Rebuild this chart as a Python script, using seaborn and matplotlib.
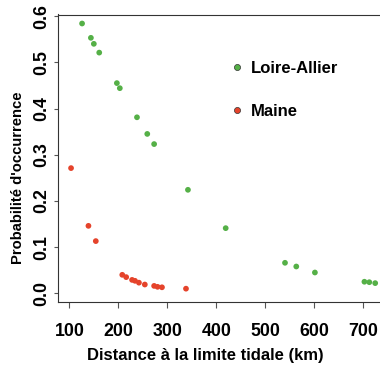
import matplotlib
matplotlib.use("Agg")
import matplotlib.pyplot as plt
from matplotlib.lines import Line2D
import seaborn as sns
import pandas as pd

# Data
loire_dist = [126, 144, 150, 161, 197, 203, 238, 259, 273, 342, 419, 540, 563, 601, 702, 712, 724]
loire_prob = [0.584, 0.553, 0.540, 0.521, 0.455, 0.444, 0.381, 0.345, 0.323, 0.224, 0.141,
              0.066, 0.058, 0.045, 0.025, 0.024, 0.022]
maine_dist = [103.5, 139, 154, 208, 216, 228, 234, 242, 254, 273, 280, 289, 338]
maine_prob = [0.271, 0.146, 0.113, 0.040, 0.035, 0.029, 0.027, 0.023, 0.019, 0.016, 0.014, 0.013, 0.010]

series_names = ["Loire-Allier", "Maine"]
series_colors = ["#55b047", "#e5432b"]
x_ticks = [100, 200, 300, 400, 500, 600, 700]
y_ticks = [0.0, 0.1, 0.2, 0.3, 0.4, 0.5, 0.6]
x_label = "Distance à la limite tidale (km)"
y_label = "Probabilité d'occurrence"

df = pd.DataFrame({
    "dist": loire_dist + maine_dist,
    "prob": loire_prob + maine_prob,
    "riviere": [series_names[0]] * len(loire_dist) + [series_names[1]] * len(maine_dist),
})

sns.set_style("white")
plt.rcParams["font.family"] = ["Liberation Sans", "DejaVu Sans"]
plt.rcParams["font.weight"] = "bold"
plt.rcParams["text.color"] = "black"
plt.rcParams["axes.labelcolor"] = "black"
plt.rcParams["xtick.color"] = "black"
plt.rcParams["ytick.color"] = "black"

W, H = 380, 367
fig = plt.figure(figsize=(W / 100, H / 100), dpi=100)
left, right, top, bottom = 58.3, 385.0, 14.5, 302.3
ax = fig.add_axes([left / W, 1 - bottom / H, (right - left) / W, (bottom - top) / H])

palette = dict(zip(series_names, series_colors))
sns.scatterplot(data=df, x="dist", y="prob", hue="riviere", palette=palette,
                s=17, linewidth=0, legend=False, ax=ax)

ax.set_xlim(77.5, 744)
ax.set_ylim(-0.0195, 0.6035)
ax.set_xticks(x_ticks)
ax.set_yticks(y_ticks)
ax.set_xticklabels([str(t) for t in x_ticks], fontsize=12.8, fontweight="bold")
ax.set_yticklabels([f"{t:.1f}" for t in y_ticks], fontsize=12.8, fontweight="bold",
                   rotation=90, va="center")

for sp in ax.spines.values():
    sp.set_visible(True)
    sp.set_color("#333333")
    sp.set_linewidth(0.8)

ax.tick_params(axis="x", direction="out", length=4, width=0.8, color="#555555", pad=11,
               bottom=True, labelcolor="black")
ax.tick_params(axis="y", direction="out", length=3, width=0.8, color="#555555", pad=2.5,
               left=True, labelcolor="black")

ax.set_xlabel(x_label, fontsize=12, fontweight="bold", va="center", color="black")
ax.set_ylabel(y_label, fontsize=10.6, fontweight="bold", va="center", color="black")
axw, axh = right - left, bottom - top
ax.xaxis.set_label_coords((205 - left) / axw, -(355.7 - bottom) / axh)
ax.yaxis.set_label_coords(-(left - 18) / axw, (bottom - 178) / axh)

handles = [Line2D([0], [0], marker="o", linestyle="", markersize=4.4,
                  markerfacecolor=c, markeredgecolor="#333333", markeredgewidth=0.5)
           for c in series_colors]
leg = ax.legend(handles, series_names, loc="upper left", frameon=False,
                bbox_to_anchor=((229 - left) / axw, 1 - (61 - top) / axh),
                prop={"size": 12, "weight": "bold"}, labelspacing=1.65,
                handletextpad=0.3, handlelength=1.0, borderaxespad=0, borderpad=0)
for t in leg.get_texts():
    t.set_color("black")

fig.savefig("out.png", dpi=100)
